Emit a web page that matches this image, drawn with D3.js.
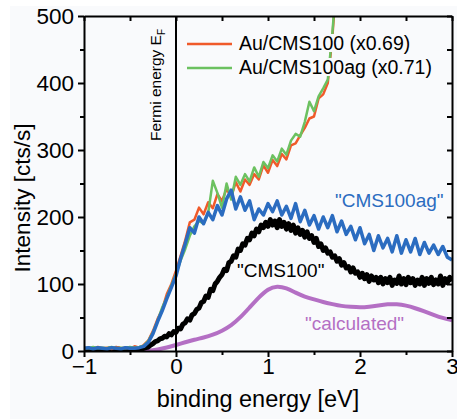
<!DOCTYPE html>
<html>
<head>
<meta charset="utf-8">
<script src="https://cdn.jsdelivr.net/npm/d3@7"></script>
<style>
    html, body { margin: 0; padding: 0; background: #ffffff; }
    #chart { width: 457px; height: 419px; }
    text { font-family: "Liberation Sans", Arial, Helvetica, sans-serif; }
</style>
</head>
<body>
<div id="chart"></div>
<script>

/*
DATA
binding energy grids (eV) and intensities (cts/s)
*/
const energy = [-1.00, -0.95, -0.90, -0.85, -0.80, -0.75, -0.70, -0.65, -0.60, -0.55,
    -0.50, -0.45, -0.40, -0.35, -0.30, -0.25, -0.20, -0.15, -0.10, -0.05,
    0.00, 0.05, 0.10, 0.15, 0.20, 0.25, 0.30, 0.35, 0.40, 0.45,
    0.50, 0.55, 0.60, 0.65, 0.70, 0.75, 0.80, 0.85, 0.90, 0.95,
    1.00, 1.05, 1.10, 1.15, 1.20, 1.25, 1.30, 1.35, 1.40, 1.45,
    1.50, 1.55, 1.60, 1.65, 1.70, 1.75, 1.80, 1.85, 1.90, 1.95,
    2.00, 2.05, 2.10, 2.15, 2.20, 2.25, 2.30, 2.35, 2.40, 2.45,
    2.50, 2.55, 2.60, 2.65, 2.70, 2.75, 2.80, 2.85, 2.90, 2.95, 3.00];

// finer grid for the noisy "CMS100" trace
const energyFine = [-1.000, -0.975, -0.950, -0.925, -0.900, -0.875, -0.850, -0.825, -0.800, -0.775,
    -0.750, -0.725, -0.700, -0.675, -0.650, -0.625, -0.600, -0.575, -0.550, -0.525,
    -0.500, -0.475, -0.450, -0.425, -0.400, -0.375, -0.350, -0.325, -0.300, -0.275,
    -0.250, -0.225, -0.200, -0.175, -0.150, -0.125, -0.100, -0.075, -0.050, -0.025,
    0.000, 0.025, 0.050, 0.075, 0.100, 0.125, 0.150, 0.175, 0.200, 0.225,
    0.250, 0.275, 0.300, 0.325, 0.350, 0.375, 0.400, 0.425, 0.450, 0.475,
    0.500, 0.525, 0.550, 0.575, 0.600, 0.625, 0.650, 0.675, 0.700, 0.725,
    0.750, 0.775, 0.800, 0.825, 0.850, 0.875, 0.900, 0.925, 0.950, 0.975,
    1.000, 1.025, 1.050, 1.075, 1.100, 1.125, 1.150, 1.175, 1.200, 1.225,
    1.250, 1.275, 1.300, 1.325, 1.350, 1.375, 1.400, 1.425, 1.450, 1.475,
    1.500, 1.525, 1.550, 1.575, 1.600, 1.625, 1.650, 1.675, 1.700, 1.725,
    1.750, 1.775, 1.800, 1.825, 1.850, 1.875, 1.900, 1.925, 1.950, 1.975,
    2.000, 2.025, 2.050, 2.075, 2.100, 2.125, 2.150, 2.175, 2.200, 2.225,
    2.250, 2.275, 2.300, 2.325, 2.350, 2.375, 2.400, 2.425, 2.450, 2.475,
    2.500, 2.525, 2.550, 2.575, 2.600, 2.625, 2.650, 2.675, 2.700, 2.725,
    2.750, 2.775, 2.800, 2.825, 2.850, 2.875, 2.900, 2.925, 2.950, 2.975, 3.000];

// Au/CMS100 (x0.69), runs off the top after 1.7 eV
const auCMS100 = [4, 5, 3, 6, 4, 5, 3, 6, 4, 5,
    4, 7, 5, 9, 16, 30, 48, 62, 85, 100,
    120, 142, 165, 192, 196, 214, 204, 222, 213, 234,
    224, 242, 230, 252, 238, 256, 248, 264, 256, 277,
    266, 285, 276, 294, 286, 307, 310, 322, 333, 347,
    350, 377, 383, 400, 470, 560];

// Au/CMS100ag (x0.71)
const auCMS100ag = [5, 4, 6, 4, 5, 4, 6, 4, 5, 4,
    6, 5, 6, 8, 15, 28, 45, 65, 80, 98,
    115, 135, 152, 172, 186, 194, 190, 206, 254, 236,
    214, 250, 226, 260, 248, 264, 253, 274, 260, 282,
    273, 292, 283, 302, 293, 314, 324, 320, 342, 372,
    358, 380, 392, 405, 475, 565];

// "CMS100ag"
const cms100ag = [4, 5, 3, 5, 4, 3, 5, 4, 3, 5,
    4, 4, 5, 7, 13, 26, 44, 60, 78, 95,
    112, 138, 160, 184, 176, 200, 190, 207, 196, 217,
    203, 227, 240, 212, 230, 210, 224, 196, 212, 203,
    220, 208, 224, 203, 216, 198, 220, 193, 210, 188,
    202, 182, 200, 184, 202, 178, 194, 174, 186, 166,
    184, 160, 174, 150, 172, 154, 168, 148, 172, 146,
    166, 148, 168, 144, 162, 146, 158, 144, 156, 140, 136];

// "CMS100"
const cms100 = [2, 1, 3, 2, 1, 2, 3, 1, 2, 2,
    1, 3, 2, 1, 2, 3, 2, 1, 2, 3,
    2, 2, 3, 2, 3, 3, 4, 5, 6, 9,
    11, 14, 15, 18, 19, 22, 21, 26, 24, 29,
    28, 34, 33, 40, 42, 48, 46, 54, 56, 62,
    64, 72, 74, 82, 80, 92, 90, 100, 104, 110,
    114, 122, 120, 132, 134, 142, 140, 152, 150, 160,
    158, 168, 166, 176, 172, 182, 178, 188, 184, 192,
    186, 196, 188, 194, 184, 196, 186, 192, 182, 190,
    180, 188, 176, 184, 174, 180, 170, 178, 168, 172,
    162, 168, 156, 160, 150, 154, 146, 148, 140, 142,
    134, 138, 128, 132, 124, 126, 118, 124, 116, 118,
    110, 116, 108, 114, 104, 112, 106, 110, 102, 110,
    100, 108, 102, 110, 98, 106, 101, 112, 100, 108,
    99, 110, 102, 108, 98, 106, 100, 110, 98, 108,
    101, 110, 99, 106, 100, 112, 98, 108, 102, 110, 104];

// "calculated"
const calcEnergy = [-1.0, -0.9, -0.8, -0.7, -0.6, -0.5, -0.4, -0.3, -0.2, -0.1,
    0.0, 0.1, 0.2, 0.3, 0.4, 0.5, 0.6, 0.7, 0.8, 0.9,
    1.0, 1.1, 1.2, 1.3, 1.4, 1.5, 1.6, 1.7, 1.8, 1.9,
    2.0, 2.1, 2.2, 2.3, 2.4, 2.5, 2.6, 2.7, 2.8, 2.9, 3.0];
const calculated = [0, 0, 0, 0, 0, 0, 0, 0, 2, 5,
    9, 13, 17, 20, 24, 30, 38, 50, 65, 80,
    93, 97, 94, 87, 81, 77, 73, 70, 67, 66,
    65, 66, 68, 70, 70, 68, 64, 59, 54, 49, 46];

const xTicks = [-1, 0, 1, 2, 3];
const xMinor = [-0.5, 0.5, 1.5, 2.5];
const yTicks = [0, 100, 200, 300, 400, 500];
const yMinor = [50, 150, 250, 350, 450];

const legendLabels = ["Au/CMS100 (x0.69)", "Au/CMS100ag (x0.71)"];

/*
SVG CANVAS
*/
const width = 457;
const height = 419;
const margin = { top: 16, right: 5, bottom: 68, left: 84 };
const bg = "#f9fafc";

const svg = d3.select("#chart")
    .append("svg")
    .attr("width", width)
    .attr("height", height);

// scanned page: a thin white border round a faintly tinted figure
svg.append("rect")
    .attr("x", 10)
    .attr("y", 6)
    .attr("width", width - 10)
    .attr("height", height - 6)
    .attr("fill", bg);

/*
SCALES
*/
const xScale = d3.scaleLinear()
    .domain([-1, 3])
    .range([margin.left, width - margin.right]);

const yScale = d3.scaleLinear()
    .domain([0, 500])
    .range([height - margin.bottom, margin.top]);

svg.append("clipPath")
    .attr("id", "plot-clip")
    .append("rect")
    .attr("x", margin.left)
    .attr("y", margin.top)
    .attr("width", xScale(3) - xScale(-1))
    .attr("height", yScale(0) - yScale(500));

/*
CURVES
*/
const series = [
    { x: calcEnergy, y: calculated, color: "#b46fc4", w: 4, curve: d3.curveBasis },
    { x: energyFine, y: cms100, color: "#000000", w: 5, curve: d3.curveLinear },
    { x: energy, y: auCMS100, color: "#f05a2a", w: 2.5, curve: d3.curveLinear },
    { x: energy, y: auCMS100ag, color: "#6cc160", w: 2.5, curve: d3.curveLinear },
    { x: energy, y: cms100ag, color: "#2b6cc0", w: 3.5, curve: d3.curveLinear }
];

const curves = svg.append("g").attr("clip-path", "url(#plot-clip)");

series.forEach(s => {
    const pts = s.y.map((v, i) => [s.x[i], v]);
    const line = d3.line()
        .x(d => xScale(d[0]))
        .y(d => yScale(d[1]))
        .curve(s.curve);
    curves.append("path")
        .datum(pts)
        .attr("fill", "none")
        .attr("stroke", s.color)
        .attr("stroke-width", s.w)
        .attr("stroke-linejoin", "round")
        .attr("d", line);
});

/* FERMI LEVEL LINE */
svg.append("line")
    .attr("x1", xScale(0))
    .attr("x2", xScale(0))
    .attr("y1", yScale(500))
    .attr("y2", yScale(0))
    .attr("stroke", "#000")
    .attr("stroke-width", 2);

/*
AXES
bottom/left ticks point out, top/right mirror them pointing in
*/
function styleAxis(g) {
    g.selectAll("path, line").attr("stroke", "#000").attr("stroke-width", 2);
    g.selectAll("text").style("font-size", "22.5px").attr("fill", "#000");
}

const plotBottom = yScale(0);
const plotTop = yScale(500);
const plotLeft = xScale(-1);
const plotRight = xScale(3);

svg.append("g")
    .attr("transform", `translate(0,${plotBottom})`)
    .call(d3.axisBottom(xScale).tickValues(xTicks).tickSize(6).tickPadding(1).tickSizeOuter(0)
        .tickFormat(d3.format("d")))
    .call(styleAxis);

svg.append("g")
    .attr("transform", `translate(0,${plotBottom})`)
    .call(d3.axisBottom(xScale).tickValues(xMinor).tickSize(4).tickFormat("").tickSizeOuter(0))
    .call(styleAxis)
    .select(".domain").remove();

svg.append("g")
    .attr("transform", `translate(${plotLeft},0)`)
    .call(d3.axisLeft(yScale).tickValues(yTicks).tickSize(6).tickPadding(4).tickSizeOuter(0))
    .call(styleAxis);

svg.append("g")
    .attr("transform", `translate(${plotLeft},0)`)
    .call(d3.axisLeft(yScale).tickValues(yMinor).tickSize(4).tickFormat("").tickSizeOuter(0))
    .call(styleAxis)
    .select(".domain").remove();

svg.append("g")
    .attr("transform", `translate(0,${plotTop})`)
    .call(d3.axisBottom(xScale).tickValues(xTicks.concat(xMinor)).tickSize(5).tickFormat("").tickSizeOuter(0))
    .call(styleAxis);

svg.append("g")
    .attr("transform", `translate(${plotRight},0)`)
    .call(d3.axisLeft(yScale).tickValues(yTicks.concat(yMinor)).tickSize(5).tickFormat("").tickSizeOuter(0))
    .call(styleAxis);

/* AXIS TITLES */
svg.append("text")
    .attr("x", 258)
    .attr("y", 407)
    .attr("text-anchor", "middle")
    .style("font-size", "23.5px")
    .text("binding energy [eV]");

svg.append("text")
    .attr("transform", "translate(30,198) rotate(-90)")
    .attr("text-anchor", "middle")
    .style("font-size", "22.5px")
    .text("Intensity [cts/s]");

/* FERMI LABEL */
const fermi = svg.append("text")
    .attr("transform", "translate(161,141) rotate(-90)")
    .style("font-size", "15.5px");
fermi.append("tspan").text("Fermi energy E");
fermi.append("tspan").style("font-size", "10px").attr("dy", 4).text("F");

/*
LEGEND
each row gets a background box so the curves pass behind the text
*/
const legendColors = ["#f05a2a", "#6cc160"];
const legendY = [44, 68];

legendLabels.forEach((label, i) => {
    const row = svg.append("g");
    const bgRect = row.append("rect").attr("fill", bg);
    row.append("line")
        .attr("x1", 187).attr("x2", 232)
        .attr("y1", legendY[i]).attr("y2", legendY[i])
        .attr("stroke", legendColors[i])
        .attr("stroke-width", 2.5);
    const t = row.append("text")
        .attr("x", 239)
        .attr("y", legendY[i] + 6)
        .style("font-size", "19.5px")
        .text(label);
    const bb = t.node().getBBox();
    bgRect.attr("x", bb.x - 2).attr("y", bb.y + 2)
        .attr("width", bb.width + 4).attr("height", bb.height - 4);
});

/* CURVE ANNOTATIONS */
const notes = [
    { text: "\"CMS100ag\"", x: 335, y: 207, color: "#2b6cc0" },
    { text: "\"CMS100\"", x: 237, y: 277, color: "#000000" },
    { text: "\"calculated\"", x: 305, y: 330, color: "#b46fc4" }
];

svg.selectAll(".note")
    .data(notes)
    .enter()
    .append("text")
        .attr("class", "note")
        .attr("x", d => d.x)
        .attr("y", d => d.y)
        .attr("fill", d => d.color)
        .style("font-size", "19px")
        .text(d => d.text);

</script>
</body>
</html>
